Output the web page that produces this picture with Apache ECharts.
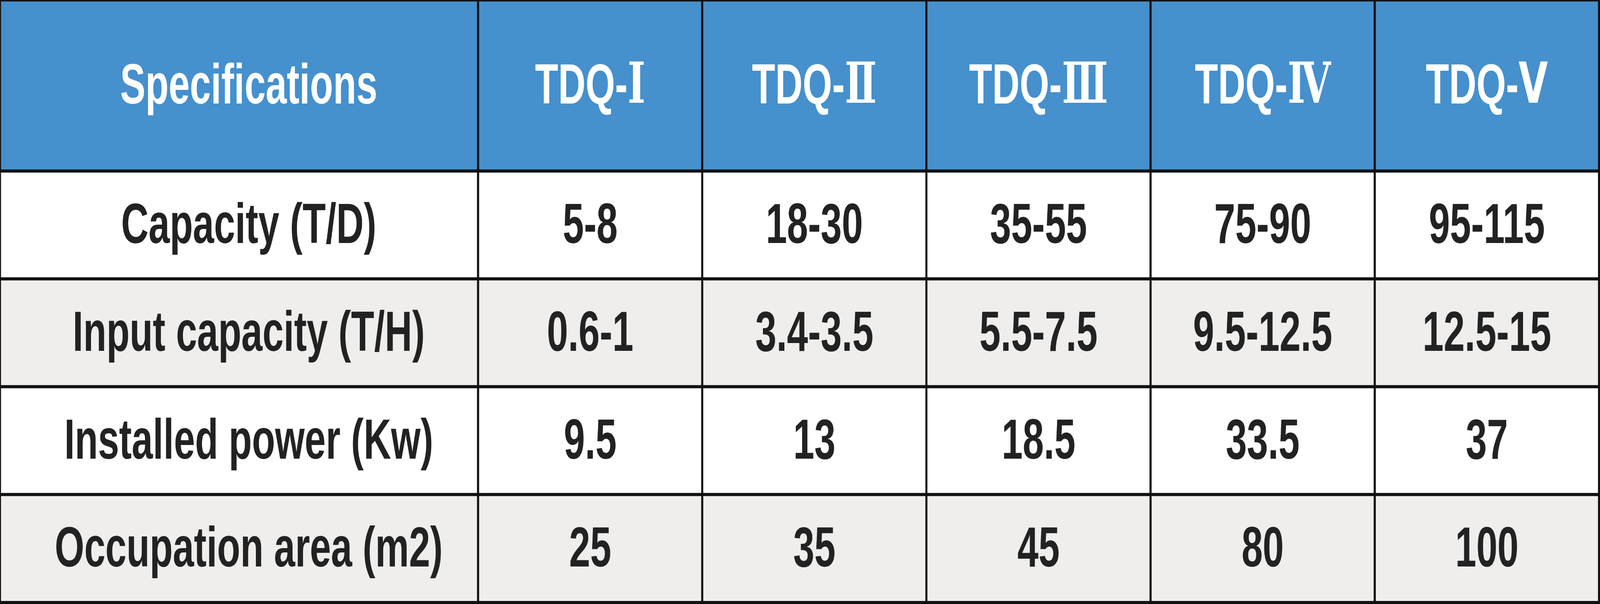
<!DOCTYPE html>
<html>
<head>
<meta charset="utf-8">
<script src="https://cdn.jsdelivr.net/npm/echarts@6/dist/echarts.min.js"></script>
<style>
html,body{margin:0;padding:0;background:#fff;overflow:hidden;}
#chart{width:6114px;height:1546px;transform-origin:0 0;}
</style>
</head>
<body>
<div id="chart"></div>
<script>
const specHeader = 'Specifications';
const models = ['TDQ-Ⅰ', 'TDQ-Ⅱ', 'TDQ-Ⅲ', 'TDQ-Ⅳ', 'TDQ-Ⅴ'];
const specs = ['Capacity (T/D)', 'Input capacity (T/H)', 'Installed power (Kw)', 'Occupation area (m2)'];
const capacity = ['5-8', '18-30', '35-55', '75-90', '95-115'];
const inputCapacity = ['0.6-1', '3.4-3.5', '5.5-7.5', '9.5-12.5', '12.5-15'];
const installedPower = ['9.5', '13', '18.5', '33.5', '37'];
const occupationArea = ['25', '35', '45', '80', '100'];
const rows = [capacity, inputCapacity, installedPower, occupationArea];

const BLUE = '#4590CD';
const GRAY = '#EFEEEC';
const WHITE = '#FFFFFF';
const BORDER = '#111111';
const FONT = '"Liberation Sans", Arial, sans-serif';
const ROMAN = '"DejaVu Serif", "Liberation Serif", serif';
const FS = 145;

// fit the 6114px-wide table into the actual window
const el = document.getElementById('chart');
const sx = Math.min(1, window.innerWidth / 6114);
const sy = Math.min(1, window.innerHeight / 1546);
el.style.transform = 'scale(' + sx + ',' + sy + ')';

const colIdx = models.map((_, i) => i);
const rowIdx = specs.map((_, i) => i);

function cellLabel(color, offsetX, formatter) {
  return {
    show: true,
    formatter: formatter || '{b}',
    color: color,
    fontSize: FS,
    fontWeight: 'bold',
    fontFamily: FONT,
    offset: [offsetX, 6],
    rich: {
      p: { color: color, fontSize: FS, fontWeight: 'bold', fontFamily: FONT },
      r: { color: color, fontSize: FS, fontWeight: 'bold', fontFamily: ROMAN },
      s: { color: color, fontSize: FS, fontWeight: 'bold', fontFamily: '"DejaVu Sans", sans-serif' }
    }
  };
}
function modelFormatter(params) {
  const s = params.name;
  const i = s.indexOf('-') + 1;
  const numeral = s.slice(i);
  const style = numeral === 'Ⅴ' ? 's' : 'r';
  return '{p|' + s.slice(0, i) + '}{' + style + '|' + numeral + '}';
}
const cellStyle = { borderColor: BORDER, borderWidth: 8 };
function hiddenCat(gridIndex, data, inverse) {
  return {
    type: 'category', gridIndex: gridIndex, data: data, inverse: !!inverse,
    show: false, axisLine: { show: false }, axisTick: { show: false },
    axisLabel: { show: false }, splitLine: { show: false }
  };
}
function cellSeries(xi, label, data, color) {
  return {
    type: 'heatmap', xAxisIndex: xi, yAxisIndex: xi,
    silent: true,
    emphasis: { disabled: true },
    itemStyle: Object.assign(color ? { color: color } : {}, cellStyle),
    label: label,
    data: data
  };
}

const LEFTW = 1827;
const grids = [
  { left: 0, top: 0, width: LEFTW, height: 438 },
  { left: LEFTW, top: 0, right: 4, height: 438 },
  { left: 0, top: 438, width: LEFTW, bottom: 4 },
  { left: LEFTW, top: 438, right: 4, bottom: 4 }
];

const option = {
  animation: false,
  backgroundColor: '#fff',
  tooltip: { show: false },
  grid: grids,
  xAxis: [
    hiddenCat(0, [specHeader]),
    hiddenCat(1, models),
    hiddenCat(2, [specHeader]),
    hiddenCat(3, models)
  ],
  yAxis: [
    hiddenCat(0, ['header']),
    hiddenCat(1, ['header']),
    hiddenCat(2, specs, true),
    hiddenCat(3, specs, true)
  ],
  series: [
    cellSeries(0, cellLabel('#FFFFFF', 37),
      [{ name: specHeader, value: [0, 0, 1] }], BLUE),
    cellSeries(1, cellLabel('#FFFFFF', 0, modelFormatter),
      colIdx.map(c => ({ name: models[c], value: [c, 0, 1] })), BLUE),
    cellSeries(2, cellLabel('#222222', 37),
      rowIdx.map(r => ({ name: specs[r], value: [0, r, r % 2], itemStyle: { color: r % 2 ? GRAY : WHITE } }))),
    cellSeries(3, cellLabel('#222222', 0),
      [].concat(...rowIdx.map(r => colIdx.map(c => ({
        name: rows[r][c], value: [c, r, r % 2], itemStyle: { color: r % 2 ? GRAY : WHITE }
      })))))
  ]
};

const chart = echarts.init(el, null, { renderer: 'canvas', width: 6114, height: 1546 });
chart.setOption(option);
</script>
</body>
</html>
